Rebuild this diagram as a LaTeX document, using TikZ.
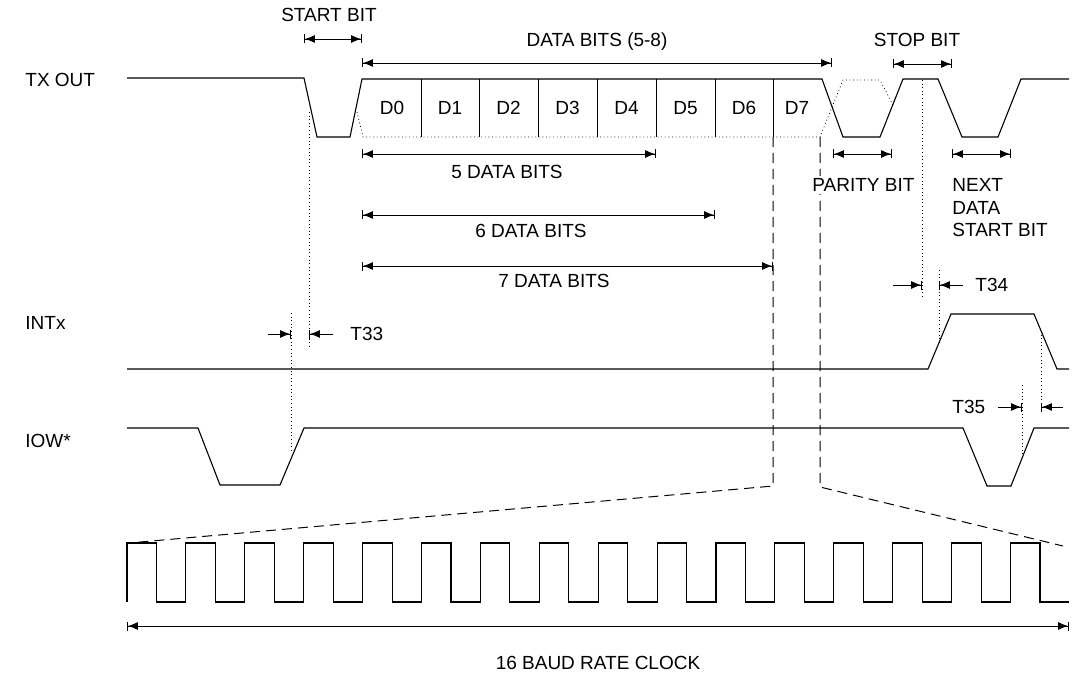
\documentclass[tikz,border=0pt]{standalone}
\usepackage{fontspec}
\setmainfont{Liberation Sans}
\usetikzlibrary{arrows.meta}
\begin{document}
\begin{tikzpicture}[x=0.5pt,y=-0.5pt,
  sig/.style={line width=0.55pt, line join=miter},
  thinline/.style={line width=0.45pt},
  dotline/.style={line width=0.4pt, dash pattern=on 0.4pt off 1.4pt},
  dashline/.style={line width=0.5pt, dash pattern=on 5pt off 3pt},
  dimarrow/.style={line width=0.45pt, {Bar[width=4.5pt]Latex[length=5pt,width=4pt]}-{Latex[length=5pt,width=4pt]Bar[width=4.5pt]}},
  tarrow/.style={line width=0.45pt, -{Latex[length=5pt,width=4pt]Bar[width=4.5pt]}},
  lbl/.style={font=\fontsize{9.5}{11.4}\selectfont, inner sep=0pt, text height=6.8pt, text depth=0pt},
  lblw/.style={lbl, anchor=west}]
\useasboundingbox (0,0) rectangle (1072,674);

% ---------- signal labels ----------
\node[lblw] (txout) at (25,80) {TX OUT};
\node[lblw] (intx) at (25,323) {INTx};
\node[lblw] (iow) at (25,441) {IOW*};

% ---------- TX OUT waveform ----------
\draw[sig] (127,78) -- (304,78) -- (317,137) -- (350,137) -- (362,79)
  -- (822,79) -- (843,137) -- (880,137) -- (903,79) -- (938,79)
  -- (962,137) -- (998,137) -- (1021,79) -- (1069,79);
\draw[dotline] (357,112) -- (363,137) -- (820,137) -- (843,80) -- (880,80) -- (893,105);
\foreach \xx in {421,479,538,597,656,715,773} \draw[thinline] (\xx,79) -- (\xx,137);
\foreach \xx/\dn [count=\i from 0] in {392/D0,450/D1,508.5/D2,567.5/D3,626.5/D4,685.5/D5,744/D6,797/D7}
  \node[lbl] (d\i) at (\xx,108) {\dn};

% ---------- INTx and IOW* ----------
\draw[sig] (127,369) -- (928,369) -- (951,314) -- (1034,314) -- (1057,369) -- (1069,369);
\draw[sig] (127,428) -- (198,428) -- (220,485) -- (280,485) -- (304,428) -- (963,428)
  -- (987,486) -- (1011,486) -- (1034,428) -- (1069,428);

% ---------- dotted reference lines ----------
\coordinate (r33a) at (291,334);
\coordinate (r33b) at (309,334);
\coordinate (r34a) at (922,285);
\coordinate (r34b) at (939,285);
\coordinate (r35a) at (1022,407);
\coordinate (r35b) at (1041,407);
\draw[dotline] (309,112) -- (309,348);
\draw[dotline] (291,313) -- (291,453);
\draw[dotline] (922,80) -- (922,298);
\draw[dotline] (939,270) -- (939,343);
\draw[dotline] (1022,385) -- (1022,457);
\draw[dotline] (1041,331) -- (1041,410);

% ---------- zoom (dashed) lines ----------
\draw[dashline] (773,137) -- (773,486) -- (129,543);
\draw[dashline] (820,137) -- (820,487) -- (1063,546);

% ---------- clock ----------
\draw[sig] (127,602) \foreach \k in {0,...,15} {
   -- ({127+58.9*\k},602) -- ({127+58.9*\k},543) -- ({156.5+58.9*\k},543) -- ({156.5+58.9*\k},602) }
   -- (1069,602);

% ---------- dimension arrows ----------
\coordinate (sb1) at (304,39);  \coordinate (sb2) at (362,39);
\coordinate (db1) at (362,63);  \coordinate (db2) at (832,63);
\coordinate (st1) at (893,64);  \coordinate (st2) at (952,64);
\coordinate (f1) at (362,154);  \coordinate (f2) at (656,154);
\coordinate (s1) at (362,215);  \coordinate (s2) at (715,215);
\coordinate (v1) at (362,266);  \coordinate (v2) at (773,266);
\coordinate (p1) at (833,154);  \coordinate (p2) at (892,154);
\coordinate (n1) at (952,154);  \coordinate (n2) at (1011,154);
\coordinate (c1) at (127,626);  \coordinate (c2) at (1069,626);
\draw[dimarrow] (sb1) -- (sb2);
\draw[dimarrow] (db1) -- (db2);
\draw[dimarrow] (st1) -- (st2);
\draw[dimarrow] (f1) -- (f2);
\draw[dimarrow] (s1) -- (s2);
\draw[dimarrow] (v1) -- (v2);
\draw[dimarrow] (p1) -- (p2);
\draw[dimarrow] (n1) -- (n2);
\draw[dimarrow] (c1) -- (c2);

\coordinate (t33a) at (268,334); \coordinate (t33b) at (333,334);
\coordinate (t34a) at (893,285); \coordinate (t34b) at (963,285);
\coordinate (t35a) at (998,407); \coordinate (t35b) at (1063,407);
\draw[tarrow] (t33a) -- (r33a);
\draw[tarrow] (t33b) -- (r33b);
\draw[tarrow] (t34a) -- (r34a);
\draw[tarrow] (t34b) -- (r34b);
\draw[tarrow] (t35a) -- (r35a);
\draw[tarrow] (t35b) -- (r35b);

% ---------- texts ----------
\node[lbl] (startbit) at (329,15) {START BIT};
\node[lbl] (databits) at (597,40) {DATA BITS (5-8)};
\node[lbl] (stopbit) at (917,40) {STOP BIT};
\node[lbl] (five) at (507,172) {5 DATA BITS};
\node[lbl] (six) at (531,231) {6 DATA BITS};
\node[lbl] (seven) at (554,281) {7 DATA BITS};
\node[lblw, fill=white, inner sep=1pt] (parity) at (810,185) {PARITY BIT};
\node[lblw] (next1) at (952,185) {NEXT};
\node[lblw] (next2) at (952,208) {DATA};
\node[lblw] (next3) at (952,230) {START BIT};
\node[lblw] (t33) at (350,334) {T33};
\node[lblw] (t34) at (975,285) {T34};
\node[lblw] (t35) at (952,407) {T35};
\node[lbl] (baud) at (598,663) {16 BAUD RATE CLOCK};
\end{tikzpicture}
\end{document}
